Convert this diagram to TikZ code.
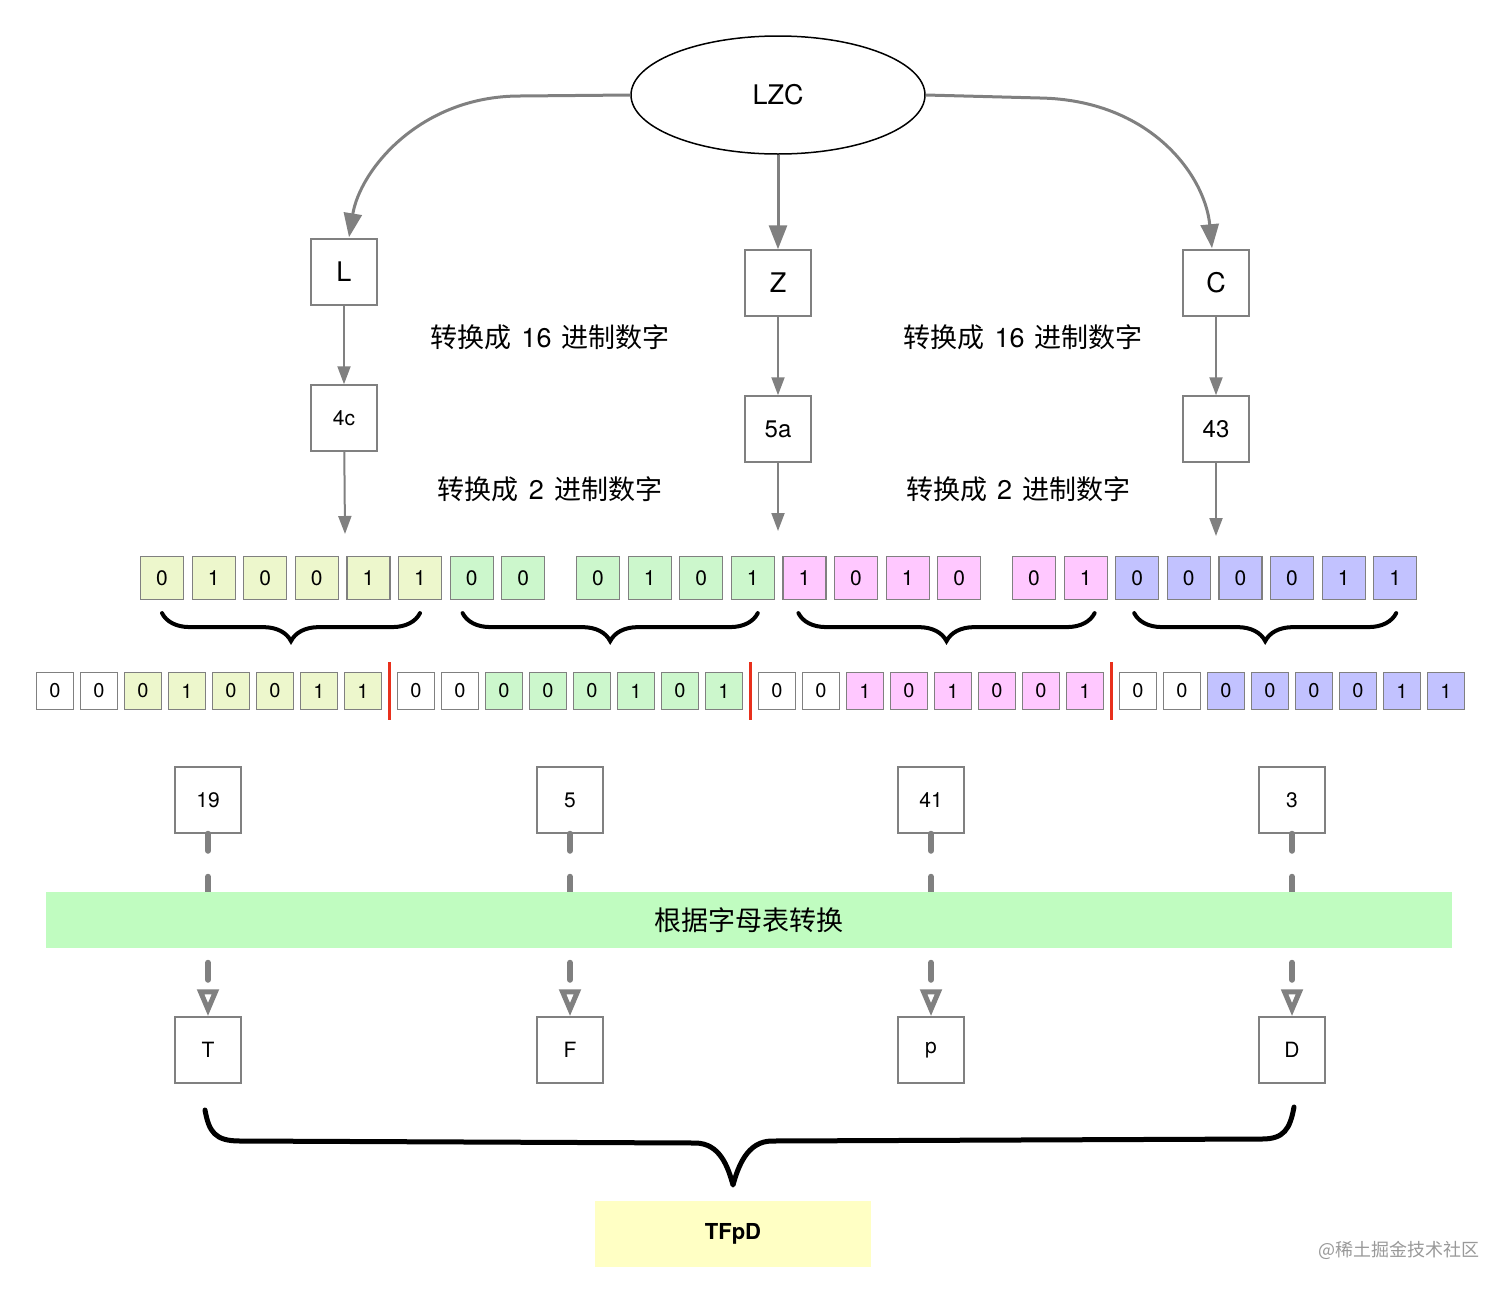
\documentclass[tikz,border=0pt]{standalone}
\usepackage{fontspec}
\setmainfont{TeX Gyre Heros}
\newfontfamily\cjk{Noto Sans CJK SC}
\usepackage{tikz}
\usetikzlibrary{arrows.meta, calc, shapes.geometric, decorations.pathreplacing}
\definecolor{linegray}{HTML}{808080}
\definecolor{bitY}{HTML}{EDF7CC}
\definecolor{bitG}{HTML}{CCF7CC}
\definecolor{bitP}{HTML}{FFC8FF}
\definecolor{bitB}{HTML}{C2C2FF}
\definecolor{bandgreen}{HTML}{C0FCC0}
\definecolor{resultyellow}{HTML}{FFFFC4}
\definecolor{sepred}{HTML}{E8301C}

\begin{document}
\begin{tikzpicture}[x=1pt, y=-1pt,
  box/.style={draw=linegray, line width=1.5pt, fill=white, minimum width=66pt, minimum height=66pt, inner sep=0pt},
  bigtext/.style={font=\fontsize{27}{30}\selectfont},
  midtext/.style={font=\fontsize{24}{28}\selectfont},
  smalltext/.style={font=\fontsize{21}{24}\selectfont},
  bit/.style={draw=linegray, line width=1.2pt, minimum width=43pt, minimum height=43pt, inner sep=0pt, font=\fontsize{21}{24}\selectfont},
  sbit/.style={draw=linegray, line width=1.2pt, minimum width=37pt, minimum height=37pt, inner sep=0pt, font=\fontsize{20}{24}\selectfont},
  thickarrow/.style={draw=linegray, line width=3pt, -{Triangle[length=24pt, width=18pt]}},
  thinarrow/.style={draw=linegray, line width=2pt, -{Triangle[length=18pt, width=13pt]}},
  dasharrow/.style={draw=linegray, line width=6pt, line cap=round, dash pattern=on 17pt off 26pt, -{Triangle[length=27pt, width=21pt, line width=5pt, fill=white]}},
  curly/.style={decorate, decoration={brace, mirror, amplitude=28pt}, line width=4pt, line cap=round},
]
\useasboundingbox (0,0) rectangle (1512,1293);

\node[ellipse, draw=black, line width=1.5pt, minimum width=294pt, minimum height=118pt, bigtext] (lzc) at (778,95) {LZC};
\node[box, bigtext] (L) at (344,272) {L};
\node[box, bigtext] (Z) at (778,283) {Z};
\node[box, bigtext] (C) at (1216,283) {C};
\node[box, smalltext] (hexL) at (344,418) {4c};
\node[box, midtext] (hexZ) at (778,429) {5a};
\node[box, midtext] (hexC) at (1216,429) {43};

\draw[thickarrow] (lzc.west) -- (520,96) .. controls (420,96) and (360,170) .. ($(L.north)+(5,-1)$);
\draw[thickarrow] (lzc.south) -- (Z.north);
\draw[thickarrow] (lzc.east) -- (1040,98) .. controls (1150,100) and (1205,175) .. ($(C.north)+(-4,-1)$);

\coordinate (toL) at (345,534);
\coordinate (toZ) at (778,531);
\coordinate (toC) at (1216,536);
\draw[thinarrow] (L) -- (hexL);
\draw[thinarrow] (Z) -- (hexZ);
\draw[thinarrow] (C) -- (hexC);
\draw[thinarrow] (hexL) -- (toL);
\draw[thinarrow] (hexZ) -- (toZ);
\draw[thinarrow] (hexC) -- (toC);

\node[bigtext] (hexnoteL) at (550,337) {\cjk 转换成\hspace{10pt}\rmfamily 16\hspace{10pt}\cjk 进制数字};
\node[bigtext] (hexnoteR) at (1023,337) {\cjk 转换成\hspace{10pt}\rmfamily 16\hspace{10pt}\cjk 进制数字};
\node[bigtext] (binnoteL) at (550,489) {\cjk 转换成\hspace{10pt}\rmfamily 2\hspace{10pt}\cjk 进制数字};
\node[bigtext] (binnoteR) at (1018,489) {\cjk 转换成\hspace{10pt}\rmfamily 2\hspace{10pt}\cjk 进制数字};

\foreach \v/\c [count=\i from 0] in {0/bitY,1/bitY,0/bitY,0/bitY,1/bitY,1/bitY,0/bitG,0/bitG,0/bitG,1/bitG,0/bitG,1/bitG,1/bitP,0/bitP,1/bitP,0/bitP,0/bitP,1/bitP,0/bitB,0/bitB,0/bitB,0/bitB,1/bitB,1/bitB}
  \node[bit, fill=\c] (a\i) at ({162+436*floor(\i/8)+51.6*mod(\i,8)},578) {\v};

\draw[curly] ($(a0.south)+(0,13)$) -- ($(a5.south)+(0,13)$);
\draw[curly] ($(a6.south)+(-9,13)$) -- ($(a11.south)+(5,13)$);
\draw[curly] ($(a12.south)+(-6,13)$) -- ($(a17.south)+(9,13)$);
\draw[curly] ($(a18.south)+(-3,13)$) -- ($(a23.south)+(1,13)$);

\foreach \v/\c [count=\i from 0] in {0/white,0/white,0/bitY,1/bitY,0/bitY,0/bitY,1/bitY,1/bitY,0/white,0/white,0/bitG,0/bitG,0/bitG,1/bitG,0/bitG,1/bitG,0/white,0/white,1/bitP,0/bitP,1/bitP,0/bitP,0/bitP,1/bitP,0/white,0/white,0/bitB,0/bitB,0/bitB,0/bitB,1/bitB,1/bitB}
  \node[sbit, fill=\c] (s\i) at ({55+361*floor(\i/8)+44*mod(\i,8)},691) {\v};

\foreach \l/\r in {s7/s8, s15/s16, s23/s24}
  \draw[sepred, line width=3pt] ($(\l.east)!0.5!(\r.west)+(0,-29)$) -- ++(0,58);

\node[box, smalltext] (n19) at (208,800) {19};
\node[box, smalltext] (n5) at (570,800) {5};
\node[box, smalltext] (n41) at (931,800) {41};
\node[box, smalltext] (n3) at (1292,800) {3};
\node[box, smalltext] (T) at (208,1050) {T};
\node[box, smalltext] (F) at (570,1050) {F};
\node[box, smalltext] (p) at (931,1050) {p};
\node[box, smalltext] (D) at (1292,1050) {D};

\draw[dasharrow] (n19) -- (T);
\draw[dasharrow] (n5) -- (F);
\draw[dasharrow] (n41) -- (p);
\draw[dasharrow] (n3) -- (D);

\node[fill=bandgreen, minimum width=1406pt, minimum height=56pt, inner sep=0pt, bigtext] (band) at (749,920) {\cjk 根据字母表转换};

\coordinate (bl) at (205,1110);
\coordinate (br) at (1294,1107);
\coordinate (btip) at (733,1185);
\draw[line width=5pt, line cap=round, line join=round] (bl) .. controls +(4,22) and +(-25,0) .. (240,1141) -- (695,1143) .. controls +(25,0) and +(-5,-18) .. (btip) .. controls +(5,-18) and +(-25,0) .. (772,1141) -- (1262,1139) .. controls +(22,0) and +(-4,22) .. (br);

\node[fill=resultyellow, minimum width=276pt, minimum height=66pt, inner sep=0pt, font=\bfseries\fontsize{22}{26}\selectfont] (res) at (733,1234) {TFpD};

\node[text=black!40, font=\fontsize{18}{20}\selectfont] (mark) at (1399,1250) {\cjk @稀土掘金技术社区};
\end{tikzpicture}
\end{document}
